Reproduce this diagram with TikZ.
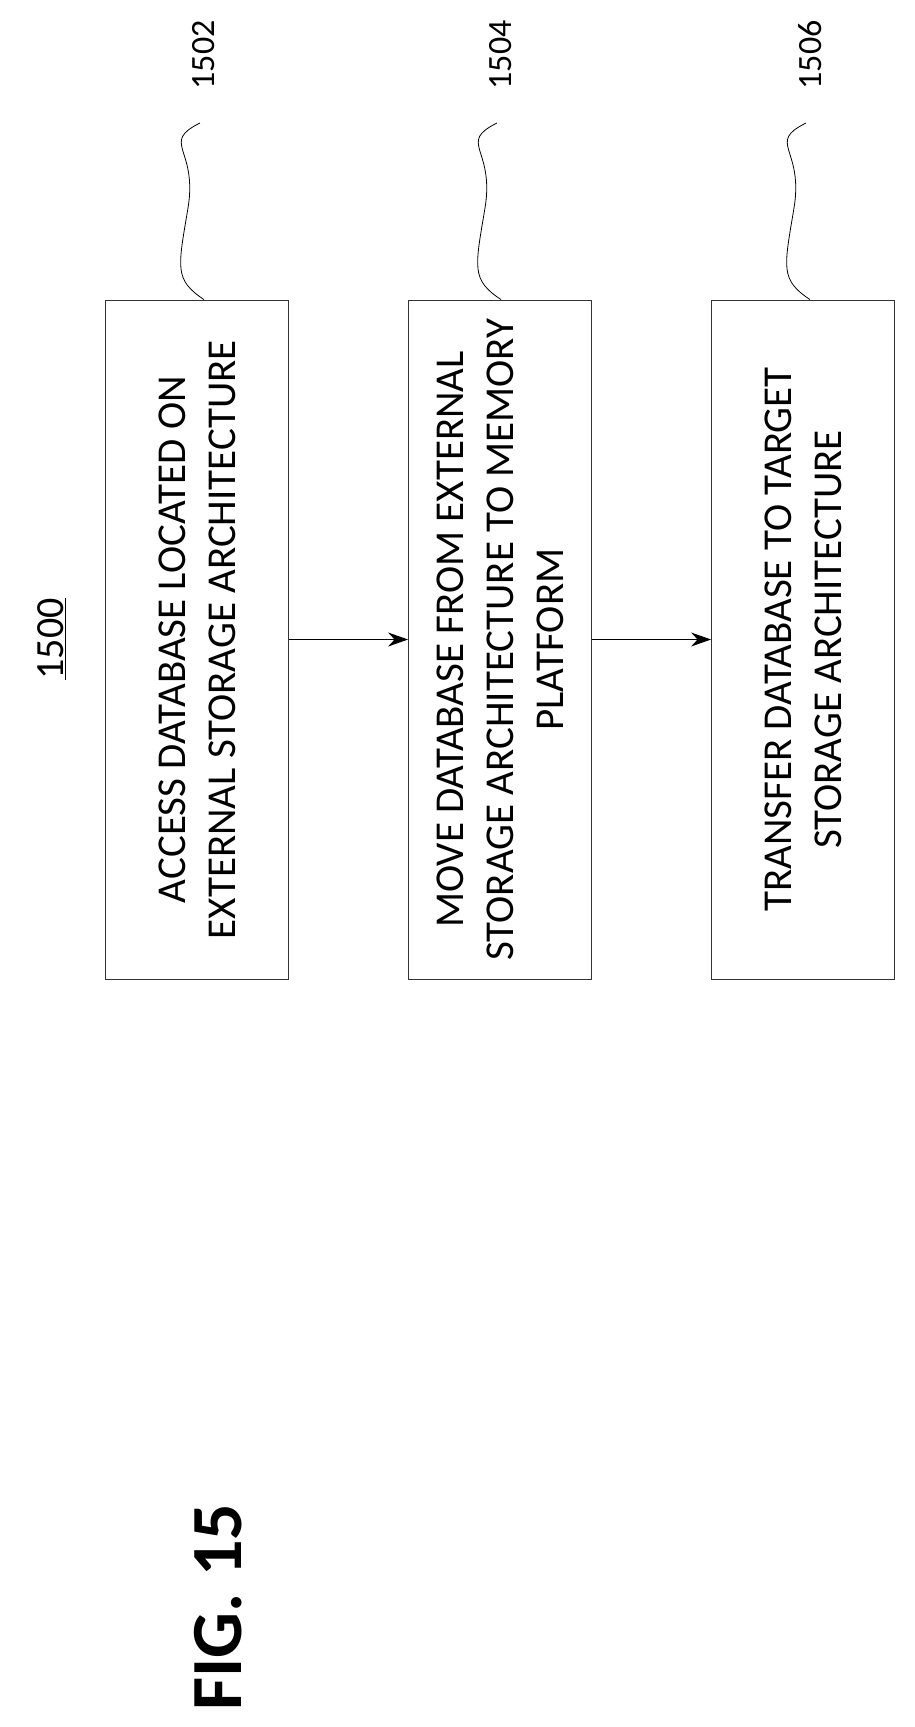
\documentclass[tikz,border=0pt]{standalone}
\usepackage{fontspec}
\setmainfont{Carlito}
\usetikzlibrary{arrows.meta}

\begin{document}
\begin{tikzpicture}[x=1pt,y=-1pt]
\tikzstyle{step box}=[rectangle, draw=black!80, thick, rotate=90, minimum width=679pt, minimum height=183pt, align=center, font=\fontsize{41}{50}\selectfont]
\tikzstyle{connect}=[-{Stealth[length=20pt,width=14pt]}, very thick]
\tikzstyle{ref}=[rotate=90, font=\fontsize{34}{38}\selectfont]
\useasboundingbox (0,0) rectangle (915,1727);
  \node[step box] (s1) at (197,639.5) {ACCESS DATABASE LOCATED ON\\EXTERNAL STORAGE ARCHITECTURE};
  \node[step box] (s2) at (500,639.5) {MOVE DATABASE FROM EXTERNAL\\STORAGE ARCHITECTURE TO MEMORY\\PLATFORM};
  \node[step box] (s3) at (803,639.5) {TRANSFER DATABASE TO TARGET\\STORAGE ARCHITECTURE};
  \node[rotate=90, font=\fontsize{40}{44}\selectfont] (fig) at (52,639) {\underline{1500}};
  \node[rotate=90, font=\bfseries\fontsize{72}{80}\selectfont] (title) at (218,1607) {FIG. 15};
  \node[ref] (r1) at (204,55) {1502};
  \node[ref] (r2) at (501,55) {1504};
  \node[ref] (r3) at (810,55) {1506};

  \path (s1.south) edge [connect] (s2.north)
        (s2.south) edge [connect] (s3.north);

  % leader lines
  \foreach \r/\s in {r1/s1,r2/s2,r3/s3}
    \draw[thick] (\r.west) ++(-4,30) .. controls +(-40,20) and +(10,-60) .. ++(-12,85)
      .. controls +(-10,60) and +(-30,-20) .. (\s.east -| \r.west);
\end{tikzpicture}
\end{document}
